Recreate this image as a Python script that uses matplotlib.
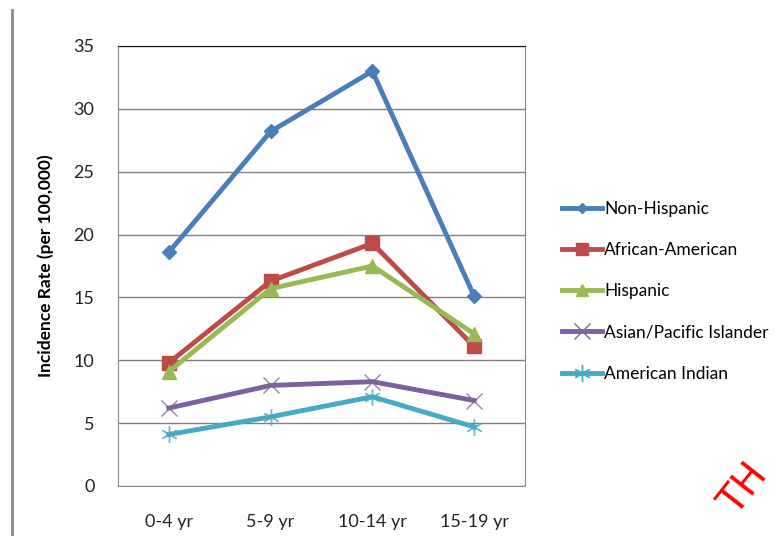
import matplotlib.pyplot as plt
from matplotlib.lines import Line2D

# incidence per 100,000 by age group
ages = ['0-4 yr', '5-9 yr', '10-14 yr', '15-19 yr']
non_hispanic = [18.6, 28.2, 33.0, 15.1]
african_american = [9.8, 16.3, 19.3, 11.1]
hispanic = [9.1, 15.7, 17.5, 12.1]
asian_pi = [6.2, 8.0, 8.3, 6.8]
american_indian = [4.1, 5.5, 7.1, 4.7]

series = [
    ('Non-Hispanic', non_hispanic, '#4a7ebb', 'D', 7),
    ('African-American', african_american, '#be4b48', 's', 10),
    ('Hispanic', hispanic, '#98b954', '^', 10),
    ('Asian/Pacific Islander', asian_pi, '#7d60a0', 'x', 10),
    ('American Indian', american_indian, '#46aac5', '*', 10),
]

plt.rcParams['font.family'] = ['Lato', 'DejaVu Sans']

fig = plt.figure(figsize=(7.79, 5.36), dpi=100)
ax = fig.add_axes([118 / 779, 50 / 536, 407 / 779, 440 / 536])

xs = list(range(len(ages)))
handles = []
for name, vals, col, mk, ms in series:
    if mk in ('x', '*'):
        m = mk if mk == 'x' else (6, 2, 0)
        ax.plot(xs, vals, color=col, lw=3.5, zorder=3)
        ax.plot(xs, vals, ls='none', marker=m, ms=ms + 2, mec=col, mew=1.0,
                alpha=0.8, zorder=4)
        h = Line2D([], [], color=col, lw=3.5, marker=m, ms=ms + 2, mec=col, mew=1.0)
    else:
        ax.plot(xs, vals, color=col, lw=3.5, marker=mk, ms=ms, mfc=col, mec=col, zorder=3)
        h = Line2D([], [], color=col, lw=3.5, marker=mk, ms=ms * 0.8, mfc=col, mec=col)
    handles.append(h)

ax.set_xlim(-0.5, 3.5)
ax.set_ylim(0, 35)
ax.set_yticks(range(0, 36, 5))
ax.set_xticks(xs)
ax.set_xticklabels(ages)
ax.tick_params(axis='both', length=0, labelsize=13, colors='#222222')
ax.tick_params(axis='y', pad=17)
ax.tick_params(axis='x', pad=20)
ax.yaxis.grid(True, color='#808080', lw=1.0)
ax.set_axisbelow(True)
for side in ('left', 'right', 'bottom'):
    ax.spines[side].set_color('#8a8a8a')
ax.spines['top'].set_color('#111111')

ax.set_ylabel('Incidence Rate (per 100,000)', fontsize=12.5, fontweight='bold', labelpad=14)

leg = fig.legend(handles, [s[0] for s in series], loc='upper left',
                 bbox_to_anchor=(555 / 779, 1 - 194 / 536), frameon=False,
                 fontsize=12.5, handlelength=2.3, handletextpad=0.12,
                 labelspacing=1.45, borderaxespad=0)

# left rule and red stamp
fig.add_artist(Line2D([12 / 779, 12 / 779], [0, 1 - 10 / 536], color='#8a8a8a', lw=2))
fig.text(712 / 779, 14 / 536, 'TH', color='red', fontsize=28, rotation=52,
         ha='left', va='bottom', family='DejaVu Sans')

fig.savefig('out.png', dpi=100)
